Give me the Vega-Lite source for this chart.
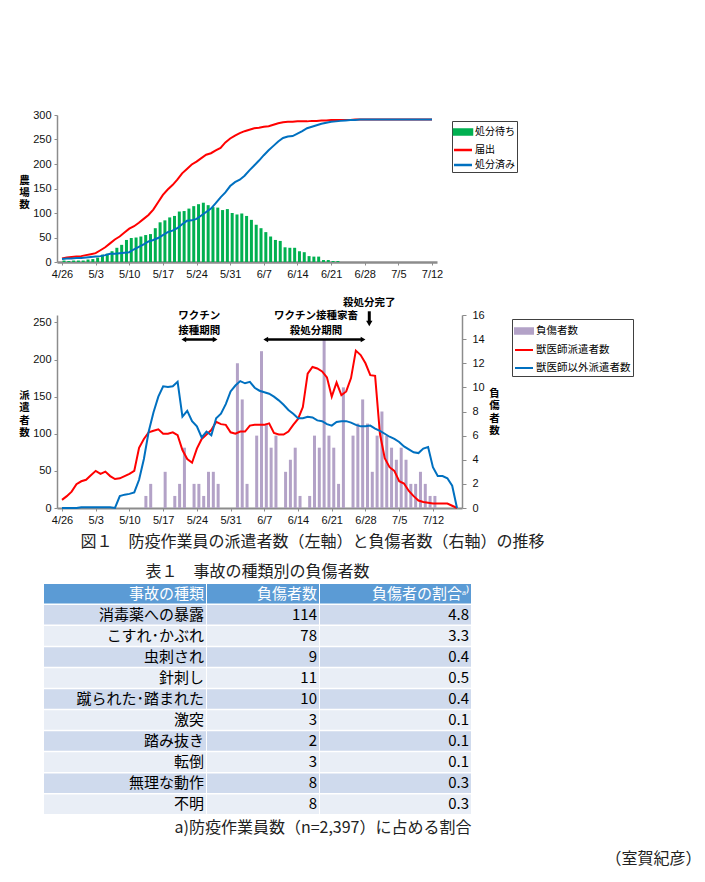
{
  "$schema": "https://vega.github.io/schema/vega-lite/v6.json",
  "background": "white",
  "padding": {"left": 18, "top": 109, "right": 40, "bottom": 25},
  "datasets": {
    "top": [
      {"date":"2010/04/26","waiting":3,"reported":7,"done":6},
      {"date":"2010/04/27","waiting":2,"reported":9,"done":7},
      {"date":"2010/04/28","waiting":3,"reported":10,"done":7},
      {"date":"2010/04/29","waiting":3,"reported":11,"done":8},
      {"date":"2010/04/30","waiting":3,"reported":12,"done":8},
      {"date":"2010/05/01","waiting":5,"reported":14,"done":9},
      {"date":"2010/05/02","waiting":6,"reported":16,"done":10},
      {"date":"2010/05/03","waiting":9,"reported":18,"done":11},
      {"date":"2010/05/04","waiting":15,"reported":24,"done":12},
      {"date":"2010/05/05","waiting":17,"reported":30,"done":14},
      {"date":"2010/05/06","waiting":22,"reported":38,"done":17},
      {"date":"2010/05/07","waiting":29,"reported":46,"done":17},
      {"date":"2010/05/08","waiting":35,"reported":52,"done":18},
      {"date":"2010/05/09","waiting":45,"reported":60,"done":19},
      {"date":"2010/05/10","waiting":49,"reported":68,"done":20},
      {"date":"2010/05/11","waiting":50,"reported":73,"done":26},
      {"date":"2010/05/12","waiting":52,"reported":80,"done":31},
      {"date":"2010/05/13","waiting":55,"reported":88,"done":36},
      {"date":"2010/05/14","waiting":57,"reported":96,"done":42},
      {"date":"2010/05/15","waiting":69,"reported":107,"done":45},
      {"date":"2010/05/16","waiting":81,"reported":122,"done":49},
      {"date":"2010/05/17","waiting":85,"reported":137,"done":55},
      {"date":"2010/05/18","waiting":91,"reported":148,"done":61},
      {"date":"2010/05/19","waiting":94,"reported":157,"done":64},
      {"date":"2010/05/20","waiting":103,"reported":168,"done":69},
      {"date":"2010/05/21","waiting":104,"reported":181,"done":77},
      {"date":"2010/05/22","waiting":109,"reported":190,"done":84},
      {"date":"2010/05/23","waiting":114,"reported":199,"done":85},
      {"date":"2010/05/24","waiting":118,"reported":205,"done":88},
      {"date":"2010/05/25","waiting":121,"reported":212,"done":95},
      {"date":"2010/05/26","waiting":116,"reported":219,"done":102},
      {"date":"2010/05/27","waiting":112,"reported":222,"done":109},
      {"date":"2010/05/28","waiting":111,"reported":228,"done":120},
      {"date":"2010/05/29","waiting":106,"reported":233,"done":132},
      {"date":"2010/05/30","waiting":108,"reported":244,"done":142},
      {"date":"2010/05/31","waiting":100,"reported":252,"done":155},
      {"date":"2010/06/01","waiting":97,"reported":258,"done":163},
      {"date":"2010/06/02","waiting":99,"reported":263,"done":168},
      {"date":"2010/06/03","waiting":94,"reported":267,"done":176},
      {"date":"2010/06/04","waiting":86,"reported":270,"done":187},
      {"date":"2010/06/05","waiting":76,"reported":273,"done":197},
      {"date":"2010/06/06","waiting":69,"reported":274,"done":207},
      {"date":"2010/06/07","waiting":61,"reported":276,"done":218},
      {"date":"2010/06/08","waiting":52,"reported":277,"done":228},
      {"date":"2010/06/09","waiting":45,"reported":280,"done":237},
      {"date":"2010/06/10","waiting":43,"reported":283,"done":246},
      {"date":"2010/06/11","waiting":30,"reported":285,"done":253},
      {"date":"2010/06/12","waiting":29,"reported":286,"done":256},
      {"date":"2010/06/13","waiting":29,"reported":286,"done":257},
      {"date":"2010/06/14","waiting":22,"reported":287,"done":262},
      {"date":"2010/06/15","waiting":20,"reported":287,"done":267},
      {"date":"2010/06/16","waiting":12,"reported":287,"done":273},
      {"date":"2010/06/17","waiting":11,"reported":288,"done":276},
      {"date":"2010/06/18","waiting":11,"reported":288,"done":279},
      {"date":"2010/06/19","waiting":4,"reported":289,"done":282},
      {"date":"2010/06/20","waiting":4,"reported":289,"done":284},
      {"date":"2010/06/21","waiting":2,"reported":290,"done":286},
      {"date":"2010/06/22","waiting":2,"reported":290,"done":287},
      {"date":"2010/06/23","reported":290,"done":288},
      {"date":"2010/06/24","reported":290,"done":289},
      {"date":"2010/06/25","reported":290,"done":290},
      {"date":"2010/06/26","reported":291,"done":290},
      {"date":"2010/06/27","reported":291,"done":291},
      {"date":"2010/06/28","reported":291,"done":291},
      {"date":"2010/06/29","reported":291,"done":291},
      {"date":"2010/06/30","reported":291,"done":291},
      {"date":"2010/07/01","reported":291,"done":291},
      {"date":"2010/07/02","reported":291,"done":291},
      {"date":"2010/07/03","reported":291,"done":291},
      {"date":"2010/07/04","reported":291,"done":291},
      {"date":"2010/07/05","reported":291,"done":291},
      {"date":"2010/07/06","reported":291,"done":291},
      {"date":"2010/07/07","reported":291,"done":291},
      {"date":"2010/07/08","reported":291,"done":291},
      {"date":"2010/07/09","reported":291,"done":291},
      {"date":"2010/07/10","reported":291,"done":291},
      {"date":"2010/07/11","reported":291,"done":291},
      {"date":"2010/07/12","reported":291,"done":291}
    ],
    "bottom": [
      {"date":"2010/04/26","vet":11,"nonvet":0},
      {"date":"2010/04/27","vet":16,"nonvet":0},
      {"date":"2010/04/28","vet":22,"nonvet":0},
      {"date":"2010/04/29","vet":32,"nonvet":0},
      {"date":"2010/04/30","vet":36,"nonvet":1},
      {"date":"2010/05/01","vet":38,"nonvet":1},
      {"date":"2010/05/02","vet":44,"nonvet":1},
      {"date":"2010/05/03","vet":50,"nonvet":1},
      {"date":"2010/05/04","vet":46,"nonvet":1},
      {"date":"2010/05/05","vet":49,"nonvet":1},
      {"date":"2010/05/06","vet":43,"nonvet":1},
      {"date":"2010/05/07","vet":39,"nonvet":0},
      {"date":"2010/05/08","vet":40,"nonvet":16},
      {"date":"2010/05/09","vet":43,"nonvet":18},
      {"date":"2010/05/10","vet":46,"nonvet":19},
      {"date":"2010/05/11","vet":50,"nonvet":21},
      {"date":"2010/05/12","vet":81,"nonvet":38},
      {"date":"2010/05/13","vet":93,"nonvet":66,"injured":1},
      {"date":"2010/05/14","vet":102,"nonvet":103,"injured":2},
      {"date":"2010/05/15","vet":104,"nonvet":129},
      {"date":"2010/05/16","vet":106,"nonvet":150},
      {"date":"2010/05/17","vet":100,"nonvet":164,"injured":3},
      {"date":"2010/05/18","vet":100,"nonvet":163},
      {"date":"2010/05/19","vet":102,"nonvet":164,"injured":1},
      {"date":"2010/05/20","vet":98,"nonvet":170,"injured":2},
      {"date":"2010/05/21","vet":78,"nonvet":123,"injured":5},
      {"date":"2010/05/22","vet":66,"nonvet":131},
      {"date":"2010/05/23","vet":61,"nonvet":117,"injured":2},
      {"date":"2010/05/24","vet":80,"nonvet":110,"injured":2},
      {"date":"2010/05/25","vet":93,"nonvet":95,"injured":1},
      {"date":"2010/05/26","vet":99,"nonvet":103,"injured":3},
      {"date":"2010/05/27","vet":105,"nonvet":98,"injured":3},
      {"date":"2010/05/28","vet":116,"nonvet":121,"injured":2},
      {"date":"2010/05/29","vet":113,"nonvet":127},
      {"date":"2010/05/30","vet":112,"nonvet":140},
      {"date":"2010/05/31","vet":102,"nonvet":157},
      {"date":"2010/06/01","vet":100,"nonvet":165,"injured":12},
      {"date":"2010/06/02","vet":103,"nonvet":171,"injured":9},
      {"date":"2010/06/03","vet":103,"nonvet":168,"injured":2},
      {"date":"2010/06/04","vet":111,"nonvet":170},
      {"date":"2010/06/05","vet":112,"nonvet":162,"injured":6},
      {"date":"2010/06/06","vet":112,"nonvet":158,"injured":13},
      {"date":"2010/06/07","vet":112,"nonvet":156,"injured":7},
      {"date":"2010/06/08","vet":114,"nonvet":154,"injured":5},
      {"date":"2010/06/09","vet":101,"nonvet":150,"injured":6},
      {"date":"2010/06/10","vet":99,"nonvet":145},
      {"date":"2010/06/11","vet":99,"nonvet":139,"injured":3},
      {"date":"2010/06/12","vet":103,"nonvet":132,"injured":4},
      {"date":"2010/06/13","vet":112,"nonvet":127,"injured":5},
      {"date":"2010/06/14","vet":120,"nonvet":121,"injured":1},
      {"date":"2010/06/15","vet":136,"nonvet":121},
      {"date":"2010/06/16","vet":181,"nonvet":123,"injured":1},
      {"date":"2010/06/17","vet":190,"nonvet":122,"injured":6},
      {"date":"2010/06/18","vet":188,"nonvet":118,"injured":5},
      {"date":"2010/06/19","vet":184,"nonvet":117,"injured":14},
      {"date":"2010/06/20","vet":176,"nonvet":113,"injured":6},
      {"date":"2010/06/21","vet":150,"nonvet":111,"injured":5},
      {"date":"2010/06/22","vet":169,"nonvet":116,"injured":2},
      {"date":"2010/06/23","vet":152,"nonvet":117,"injured":10},
      {"date":"2010/06/24","vet":157,"nonvet":117},
      {"date":"2010/06/25","vet":175,"nonvet":115,"injured":6},
      {"date":"2010/06/26","vet":212,"nonvet":112,"injured":7},
      {"date":"2010/06/27","vet":206,"nonvet":110,"injured":9},
      {"date":"2010/06/28","vet":195,"nonvet":110,"injured":7},
      {"date":"2010/06/29","vet":179,"nonvet":111,"injured":3},
      {"date":"2010/06/30","vet":178,"nonvet":107,"injured":6},
      {"date":"2010/07/01","vet":100,"nonvet":104,"injured":8},
      {"date":"2010/07/02","vet":67,"nonvet":100,"injured":6},
      {"date":"2010/07/03","vet":55,"nonvet":96,"injured":5},
      {"date":"2010/07/04","vet":50,"nonvet":93,"injured":4},
      {"date":"2010/07/05","vet":36,"nonvet":89,"injured":5},
      {"date":"2010/07/06","vet":33,"nonvet":83,"injured":4},
      {"date":"2010/07/07","vet":23,"nonvet":79,"injured":2},
      {"date":"2010/07/08","vet":16,"nonvet":75,"injured":2},
      {"date":"2010/07/09","vet":10,"nonvet":74,"injured":3},
      {"date":"2010/07/10","vet":8,"nonvet":80,"injured":2},
      {"date":"2010/07/11","vet":7,"nonvet":82,"injured":1},
      {"date":"2010/07/12","vet":6,"nonvet":55,"injured":1},
      {"date":"2010/07/13","vet":6,"nonvet":43},
      {"date":"2010/07/14","vet":6,"nonvet":43},
      {"date":"2010/07/15","vet":6,"nonvet":40},
      {"date":"2010/07/16","vet":3,"nonvet":30},
      {"date":"2010/07/17","vet":0,"nonvet":0}
    ],
    "notes": [
      {"date": "2010/05/24 12:00", "v": 258, "label": "ワクチン"},
      {"date": "2010/05/24 12:00", "v": 238.6, "label": "接種期間"},
      {"date": "2010/06/17 17:00", "v": 258, "label": "ワクチン接種家畜"},
      {"date": "2010/06/17 17:00", "v": 238.6, "label": "殺処分期間"},
      {"date": "2010/06/28 19:00", "v": 276.3, "label": "殺処分完了"}
    ],
    "periods": [
      {"start": "2010/05/21 07:00", "end": "2010/05/27 19:00", "v": 227},
      {"start": "2010/06/07 07:00", "end": "2010/06/27 12:00", "v": 227}
    ],
    "done": [
      {"date": "2010/06/28 19:00", "from": 265, "to": 251, "tip": 248.5}
    ],
    "table": [
      {"row":1,"type":"消毒薬への暴露","n":114,"pct":4.8},
      {"row":2,"type":"こすれ･かぶれ","n":78,"pct":3.3},
      {"row":3,"type":"虫刺され","n":9,"pct":0.4},
      {"row":4,"type":"針刺し","n":11,"pct":0.5},
      {"row":5,"type":"蹴られた･踏まれた","n":10,"pct":0.4},
      {"row":6,"type":"激突","n":3,"pct":0.1},
      {"row":7,"type":"踏み抜き","n":2,"pct":0.1},
      {"row":8,"type":"転倒","n":3,"pct":0.1},
      {"row":9,"type":"無理な動作","n":8,"pct":0.3},
      {"row":10,"type":"不明","n":8,"pct":0.3}
    ],
    "header": [
      {"row":0,"type":"事故の種類","n":"負傷者数","pct":"負傷者の割合ᵃ⁾"}
    ]
  },
  "title": {"text": "（室賀紀彦）", "orient": "bottom", "anchor": "end", "font": "Noto Sans CJK JP", "fontSize": 16, "fontWeight": "normal", "color": "#222", "dx": 68, "offset": 16},
  "vconcat": [
    {
      "vconcat": [
        {
          "width": 393, "height": 147,
          "data": {"name": "top"},
          "encoding": {
            "x": {"field": "date", "type": "temporal",
              "scale": {"domain": [{"year":2010,"month":4,"date":26},{"year":2010,"month":7,"date":12}], "range": [13, 393]},
              "axis": {"title": null, "format": "%-m/%-d", "domainWidth": 2.5,
                "values": [{"year":2010,"month":4,"date":26},{"year":2010,"month":5,"date":3},{"year":2010,"month":5,"date":10},{"year":2010,"month":5,"date":17},{"year":2010,"month":5,"date":24},{"year":2010,"month":5,"date":31},{"year":2010,"month":6,"date":7},{"year":2010,"month":6,"date":14},{"year":2010,"month":6,"date":21},{"year":2010,"month":6,"date":28},{"year":2010,"month":7,"date":5},{"year":2010,"month":7,"date":12}]}}
          },
          "layer": [
            {
              "mark": {"type": "bar", "size": 3, "xOffset": 2},
              "encoding": {
                "y": {"field": "waiting", "type": "quantitative", "scale": {"domain": [0, 300]},
                  "axis": {"offset": -13, "values": [0,50,100,150,200,250,300], "labelOverlap": false, "title": ["農","場","数"], "titleAngle": 0, "titleAlign": "center", "titleBaseline": "top", "titleX": -33, "titleY": 60, "titleFontSize": 10.5, "titleLineHeight": 12}},
                "color": {"datum": "処分待ち", "type": "nominal",
                  "scale": {"domain": ["処分待ち","届出","処分済み"], "range": ["#00b050","#ff0000","#0070c0"]},
                  "legend": {"title": null, "orient": "none", "legendX": 408, "legendY": 6,
                    "strokeColor": "#404040", "fillColor": "#ffffff", "padding": 2,
                    "labelFont": "Noto Sans CJK JP", "labelFontSize": 10, "labelColor": "#000", "labelOffset": 3,
                    "symbolType": "stroke", "symbolSize": 225, "symbolStrokeWidth": 2.5, "rowPadding": 1,
                    "encode": {"symbols": {"update": {
                      "shape": {"signal": "datum.value === '処分待ち' ? 'M-1.2,-0.33H1.2V0.33H-1.2Z' : 'M-1.2,0H1.2'"},
                      "fill": {"signal": "datum.value === '処分待ち' ? '#00b050' : 'transparent'"},
                      "stroke": {"signal": "datum.value === '届出' ? '#ff0000' : (datum.value === '処分済み' ? '#0070c0' : 'transparent')"},
                      "strokeWidth": {"value": 2.5}
                    }}}}}
              }
            },
            {
              "mark": {"type": "line", "strokeWidth": 2},
              "encoding": {
                "y": {"field": "reported", "type": "quantitative", "axis": null},
                "color": {"datum": "届出", "type": "nominal"}
              }
            },
            {
              "mark": {"type": "line", "strokeWidth": 2},
              "encoding": {
                "y": {"field": "done", "type": "quantitative", "axis": null},
                "color": {"datum": "処分済み", "type": "nominal"}
              }
            }
          ],
          "resolve": {"axis": {"y": "independent"}}
        },
        {
          "width": 418, "height": 193,
          "data": {"name": "bottom"},
          "encoding": {
            "x": {"field": "date", "type": "temporal",
              "scale": {"domain": [{"year":2010,"month":4,"date":26},{"year":2010,"month":7,"date":17}], "range": [13, 418]},
              "axis": {"format": "%-m/%-d", "domainWidth": 2,
                "values": [{"year":2010,"month":4,"date":26},{"year":2010,"month":5,"date":3},{"year":2010,"month":5,"date":10},{"year":2010,"month":5,"date":17},{"year":2010,"month":5,"date":24},{"year":2010,"month":5,"date":31},{"year":2010,"month":6,"date":7},{"year":2010,"month":6,"date":14},{"year":2010,"month":6,"date":21},{"year":2010,"month":6,"date":28},{"year":2010,"month":7,"date":5},{"year":2010,"month":7,"date":12}],
                "title": "図１　防疫作業員の派遣者数（左軸）と負傷者数（右軸）の推移",
                "titleX": 268, "titleY": 33, "titleAlign": "center", "titleBaseline": "middle",
                "titleFontSize": 16, "titleFontWeight": "normal", "titleColor": "#222"}}
          },
          "layer": [
            {
              "mark": {"type": "bar", "size": 3, "xOffset": 2},
              "encoding": {
                "y": {"field": "injured", "type": "quantitative", "scale": {"domain": [0, 16]},
                  "axis": {"orient": "right", "values": [0,2,4,6,8,10,12,14,16], "labelPadding": 6, "tickSize": 4,
                    "title": ["負","傷","者","数"], "titleAngle": 0, "titleAlign": "center", "titleBaseline": "top", "titleX": 32, "titleY": 73, "titleFontSize": 10.5, "titleLineHeight": 12.6}},
                "color": {"datum": "負傷者数", "type": "nominal",
                  "scale": {"domain": ["負傷者数","獣医師派遣者数","獣医師以外派遣者数"], "range": ["#b3a2c7","#ff0000","#0070c0"]},
                  "legend": {"title": null, "orient": "none", "legendX": 468, "legendY": 4,
                    "strokeColor": "#404040", "fillColor": "#ffffff", "padding": 2,
                    "labelFont": "Noto Sans CJK JP", "labelFontSize": 10.5, "labelColor": "#000", "labelOffset": 2,
                    "symbolType": "stroke", "symbolSize": 324, "symbolStrokeWidth": 2, "rowPadding": 2, "labelLimit": 200,
                    "encode": {"symbols": {"update": {
                      "shape": {"signal": "datum.value === '負傷者数' ? 'M-1,-0.3H1V0.3H-1Z' : 'M-1,0H1'"},
                      "fill": {"signal": "datum.value === '負傷者数' ? '#b3a2c7' : 'transparent'"},
                      "stroke": {"signal": "datum.value === '獣医師派遣者数' ? '#ff0000' : (datum.value === '獣医師以外派遣者数' ? '#0070c0' : 'transparent')"},
                      "strokeWidth": {"value": 2}
                    }}}}}
              }
            },
            {
              "layer": [
                {
                  "mark": {"type": "line", "strokeWidth": 2},
                  "encoding": {
                    "y": {"field": "vet", "type": "quantitative", "scale": {"domain": [0, 250]},
                      "axis": {"offset": -13, "values": [0,50,100,150,200,250], "labelOverlap": false, "title": ["派","遣","者","数"], "titleAngle": 0, "titleAlign": "center", "titleBaseline": "top", "titleX": -33, "titleY": 75, "titleFontSize": 10.5, "titleLineHeight": 12.5}},
                    "color": {"datum": "獣医師派遣者数", "type": "nominal"}
                  }
                },
                {
                  "mark": {"type": "line", "strokeWidth": 2},
                  "encoding": {
                    "y": {"field": "nonvet", "type": "quantitative", "axis": null},
                    "color": {"datum": "獣医師以外派遣者数", "type": "nominal"}
                  }
                },
                {
                  "data": {"name": "notes"},
                  "mark": {"type": "text", "font": "Noto Sans CJK JP", "fontWeight": "bold", "fontSize": 10.5, "baseline": "middle", "color": "#000"},
                  "encoding": {
                    "x": {"field": "date", "type": "temporal"},
                    "y": {"field": "v", "type": "quantitative", "axis": null},
                    "text": {"field": "label"}
                  }
                },
                {
                  "data": {"name": "periods"},
                  "mark": {"type": "rule", "strokeWidth": 2.5, "color": "#000"},
                  "encoding": {
                    "x": {"field": "start", "type": "temporal"},
                    "x2": {"field": "end"},
                    "y": {"field": "v", "type": "quantitative", "axis": null}
                  }
                },
                {
                  "data": {"name": "periods"},
                  "mark": {"type": "point", "shape": "triangle-left", "filled": true, "size": 30, "color": "#000", "opacity": 1},
                  "encoding": {
                    "x": {"field": "start", "type": "temporal"},
                    "y": {"field": "v", "type": "quantitative", "axis": null}
                  }
                },
                {
                  "data": {"name": "periods"},
                  "mark": {"type": "point", "shape": "triangle-right", "filled": true, "size": 30, "color": "#000", "opacity": 1},
                  "encoding": {
                    "x": {"field": "end", "type": "temporal"},
                    "y": {"field": "v", "type": "quantitative", "axis": null}
                  }
                },
                {
                  "data": {"name": "done"},
                  "mark": {"type": "rule", "strokeWidth": 3, "color": "#000"},
                  "encoding": {
                    "x": {"field": "date", "type": "temporal"},
                    "y": {"field": "from", "type": "quantitative", "axis": null},
                    "y2": {"field": "to"}
                  }
                },
                {
                  "data": {"name": "done"},
                  "mark": {"type": "point", "shape": "triangle-down", "filled": true, "size": 40, "color": "#000", "opacity": 1},
                  "encoding": {
                    "x": {"field": "date", "type": "temporal"},
                    "y": {"field": "tip", "type": "quantitative", "axis": null}
                  }
                }
              ],
              "resolve": {"axis": {"y": "independent"}}
            }
          ],
          "resolve": {"scale": {"y": "independent"}}
        }
      ],
      "spacing": 18,
      "resolve": {"scale": {"color": "independent"}, "legend": {"color": "independent"}}
    },
    {
      "title": {"text": "表１　事故の種類別の負傷者数", "anchor": "middle", "font": "Noto Sans CJK JP", "fontSize": 16, "fontWeight": "normal", "color": "#222", "offset": 4},
      "bounds": "flush",
      "spacing": 1,
      "hconcat": [
        {
          "width": 162, "height": 230,
          "layer": [
            {"data": {"name": "table"}, "mark": {"type": "rect"},
             "encoding": {
               "y": {"field": "row", "type": "ordinal", "scale": {"domain": [0,1,2,3,4,5,6,7,8,9,10], "paddingInner": 0.07, "paddingOuter": 0}, "axis": null},
               "x": {"datum": 0, "type": "quantitative", "scale": {"domain": [0, 1]}, "axis": null},
               "x2": {"datum": 1},
               "color": {"condition": {"test": "datum.row % 2 === 1", "value": "#cfdaed"}, "value": "#e9eef6"}}},
            {"data": {"name": "header"}, "mark": {"type": "rect", "color": "#5b9bd5"},
             "encoding": {"y": {"field": "row", "type": "ordinal", "axis": null}, "x": {"datum": 0, "type": "quantitative", "axis": null}, "x2": {"datum": 1}}},
            {"data": {"name": "table"}, "mark": {"type": "text", "align": "right", "dx": -2, "fontSize": 15, "font": "Noto Sans CJK JP", "color": "#000"},
             "encoding": {"y": {"field": "row", "type": "ordinal", "axis": null}, "x": {"datum": 1, "type": "quantitative", "axis": null}, "text": {"field": "type"}}},
            {"data": {"name": "header"}, "mark": {"type": "text", "align": "right", "dx": -2, "fontSize": 15, "font": "Noto Sans CJK JP", "color": "#ffffff"},
             "encoding": {"y": {"field": "row", "type": "ordinal", "axis": null}, "x": {"datum": 1, "type": "quantitative", "axis": null}, "text": {"field": "type"}}}
          ]
        },
        {
          "width": 112, "height": 230,
          "layer": [
            {"data": {"name": "table"}, "mark": {"type": "rect"},
             "encoding": {
               "y": {"field": "row", "type": "ordinal", "scale": {"domain": [0,1,2,3,4,5,6,7,8,9,10], "paddingInner": 0.07, "paddingOuter": 0}, "axis": null},
               "x": {"datum": 0, "type": "quantitative", "scale": {"domain": [0, 1]}, "axis": null},
               "x2": {"datum": 1},
               "color": {"condition": {"test": "datum.row % 2 === 1", "value": "#cfdaed"}, "value": "#e9eef6"}}},
            {"data": {"name": "header"}, "mark": {"type": "rect", "color": "#5b9bd5"},
             "encoding": {"y": {"field": "row", "type": "ordinal", "axis": null}, "x": {"datum": 0, "type": "quantitative", "axis": null}, "x2": {"datum": 1}}},
            {"data": {"name": "table"}, "mark": {"type": "text", "align": "right", "dx": -2, "fontSize": 15, "font": "Noto Sans CJK JP", "color": "#000"},
             "encoding": {"y": {"field": "row", "type": "ordinal", "axis": null}, "x": {"datum": 1, "type": "quantitative", "axis": null}, "text": {"field": "n"}}},
            {"data": {"name": "header"}, "mark": {"type": "text", "align": "right", "dx": -2, "fontSize": 15, "font": "Noto Sans CJK JP", "color": "#ffffff"},
             "encoding": {"y": {"field": "row", "type": "ordinal", "axis": null}, "x": {"datum": 1, "type": "quantitative", "axis": null}, "text": {"field": "n"}}}
          ]
        },
        {
          "width": 151, "height": 230,
          "layer": [
            {"data": {"name": "table"}, "mark": {"type": "rect"},
             "encoding": {
               "y": {"field": "row", "type": "ordinal", "scale": {"domain": [0,1,2,3,4,5,6,7,8,9,10], "paddingInner": 0.07, "paddingOuter": 0}, "axis": null},
               "x": {"datum": 0, "type": "quantitative", "scale": {"domain": [0, 1]},
                 "axis": {"orient": "bottom", "domain": false, "ticks": false, "labels": false, "grid": false,
                   "title": "a)防疫作業員数（n=2,397）に占める割合", "titleAlign": "right", "titleX": 151, "titleY": 13, "titleBaseline": "middle",
                   "titleFont": "Noto Sans CJK JP", "titleFontSize": 16, "titleFontWeight": "normal", "titleColor": "#222"}},
               "x2": {"datum": 1},
               "color": {"condition": {"test": "datum.row % 2 === 1", "value": "#cfdaed"}, "value": "#e9eef6"}}},
            {"data": {"name": "header"}, "mark": {"type": "rect", "color": "#5b9bd5"},
             "encoding": {"y": {"field": "row", "type": "ordinal", "axis": null}, "x": {"datum": 0, "type": "quantitative"}, "x2": {"datum": 1}}},
            {"data": {"name": "table"}, "mark": {"type": "text", "align": "right", "dx": -2, "fontSize": 15, "font": "Noto Sans CJK JP", "color": "#000"},
             "encoding": {"y": {"field": "row", "type": "ordinal", "axis": null}, "x": {"datum": 1, "type": "quantitative"}, "text": {"field": "pct", "format": ".1f"}}},
            {"data": {"name": "header"}, "mark": {"type": "text", "align": "right", "dx": -2, "fontSize": 15, "font": "Noto Sans CJK JP", "color": "#ffffff"},
             "encoding": {"y": {"field": "row", "type": "ordinal", "axis": null}, "x": {"datum": 1, "type": "quantitative"}, "text": {"field": "pct"}}}
          ]
        }
      ]
    }
  ],
  "spacing": 15,
  "resolve": {"scale": {"color": "independent"}, "legend": {"color": "independent"}},
  "config": {
    "view": {"stroke": null},
    "font": "Noto Sans CJK JP",
    "axis": {"grid": false, "labelOverlap": false, "labelFont": "Liberation Sans", "labelFontSize": 11, "labelColor": "#111",
      "domainColor": "#8c8c8c", "domainWidth": 1.5, "tickColor": "#8c8c8c", "tickSize": 3, "labelPadding": 3,
      "titleFont": "Noto Sans CJK JP", "titleFontSize": 11, "titleFontWeight": "bold", "titleColor": "#000"}
  }
}
